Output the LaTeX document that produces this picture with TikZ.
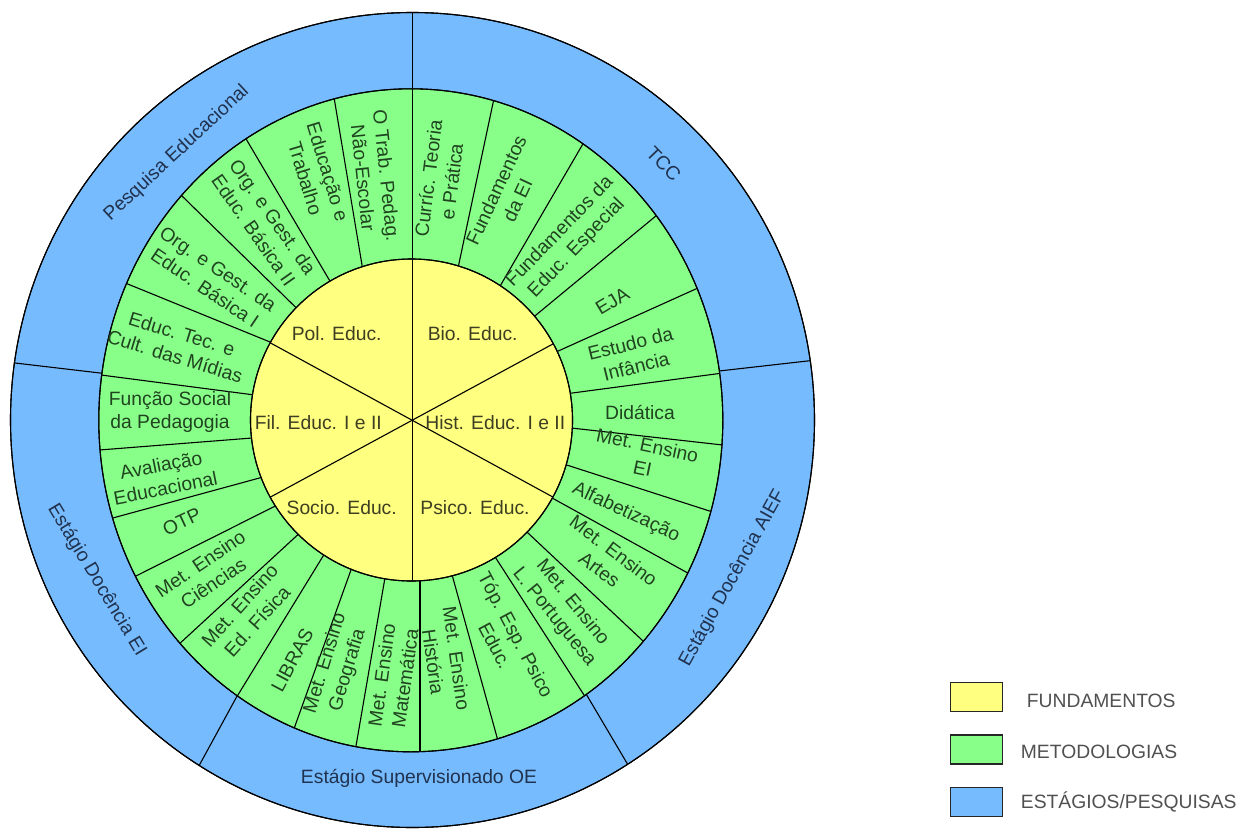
\documentclass[tikz,border=0pt]{standalone}
\usepackage{fontspec}
\setmainfont{Liberation Sans}
\definecolor{yel}{RGB}{255,255,128}
\definecolor{grn}{RGB}{136,255,136}
\definecolor{blu}{RGB}{119,187,255}
\definecolor{ytext}{RGB}{62,62,34}
\definecolor{gtext}{RGB}{32,68,32}
\definecolor{btext}{RGB}{32,50,78}
\definecolor{legtext}{RGB}{80,80,80}
\tikzset{
  ring/.style={draw=black, line width=1.1pt},
  divline/.style={draw=black, line width=1.1pt, shorten <=-5pt, shorten >=-5pt},
  lbl/.style={font=\fontsize{19.3}{23.5}\selectfont, align=center, inner sep=0pt},
  ylbl/.style={lbl, text=ytext},
  glbl/.style={lbl, text=gtext},
  blbl/.style={lbl, text=btext},
  legbox/.style={draw=black!85, line width=1.3pt, minimum width=52pt, minimum height=29pt, inner sep=0pt},
  legtxt/.style={font=\fontsize{19.3}{22}\selectfont, text=legtext, anchor=base west, inner sep=0pt}
}
\begin{document}
\begin{tikzpicture}[x=1pt,y=-1pt]
\useasboundingbox (0,0) rectangle (1248,830);
\coordinate (CO) at (412.5,420);
\coordinate (CG) at (410.8,420.3);
\coordinate (CY) at (411.5,420);
% rings
\path[ring, fill=blu] (CO) ellipse [x radius=402, y radius=407.5];
\path[ring, fill=grn] (CG) ellipse [x radius=312, y radius=331.5];
\path[ring, fill=yel] (CY) ellipse [x radius=161, y radius=161];
% outer ring dividers
\begin{scope}[even odd rule]
  \clip (CO) ellipse [x radius=402, y radius=407.5] (CG) ellipse [x radius=312, y radius=331.5];
  \coordinate (b1i) at (100,373);   \coordinate (b1o) at (15,363);
  \coordinate (b2i) at (721.7,370.7); \coordinate (b2o) at (810,360.7);
  \coordinate (b3i) at (236.7,696.7); \coordinate (b3o) at (196.7,770);
  \coordinate (b4i) at (586.7,695); \coordinate (b4o) at (630,768.3);
  \coordinate (b5i) at (412.7,89);  \coordinate (b5o) at (412.7,12.7);
  \foreach \n in {1,...,5} { \draw[divline] (b\n i) -- (b\n o); }
\end{scope}
% green ring dividers
\begin{scope}[even odd rule]
  \clip (CG) ellipse [x radius=312, y radius=331.5] (CY) ellipse [x radius=161, y radius=161];
  \coordinate (g1i) at (361.7,263.3); \coordinate (g1o) at (334.3,99);
  \coordinate (g2i) at (328.3,278.3); \coordinate (g2o) at (246.7,140);
  \coordinate (g3i) at (293.3,305);   \coordinate (g3o) at (182.7,196.7);
  \coordinate (g4i) at (269.3,341.7); \coordinate (g4o) at (126,283.3);
  \coordinate (g5i) at (249.3,394.3); \coordinate (g5o) at (101,375);
  \coordinate (g6i) at (248.3,438.3); \coordinate (g6o) at (99.3,450);
  \coordinate (g7i) at (258.3,478.3); \coordinate (g7o) at (111.7,518.3);
  \coordinate (g8i) at (270.7,508.3); \coordinate (g8o) at (136,576);
  \coordinate (g9i) at (295,537.3);   \coordinate (g9o) at (181.7,641.7);
  \coordinate (g10i) at (322.7,556.7); \coordinate (g10o) at (237.3,696);
  \coordinate (g11i) at (350,572.7);   \coordinate (g11o) at (295,726);
  \coordinate (g12i) at (384.3,581.7); \coordinate (g12o) at (356,746);
  \coordinate (g13i) at (420,580);     \coordinate (g13o) at (420,751.7);
  \coordinate (g14i) at (453.3,579.3); \coordinate (g14o) at (497.3,738.3);
  \coordinate (g15i) at (496,558.3);   \coordinate (g15o) at (584,695);
  \coordinate (g16i) at (528.3,533.3); \coordinate (g16o) at (642.7,640.7);
  \coordinate (g17i) at (552.7,498.3); \coordinate (g17o) at (688.3,573.3);
  \coordinate (g18i) at (566.7,465);   \coordinate (g18o) at (711.7,511.7);
  \coordinate (g19i) at (574,428.3);   \coordinate (g19o) at (722.7,445);
  \coordinate (g20i) at (570,393.3);   \coordinate (g20o) at (720.7,373.3);
  \coordinate (g21i) at (556.7,351.7); \coordinate (g21o) at (697.3,288.3);
  \coordinate (g22i) at (536,315);     \coordinate (g22o) at (655,216.7);
  \coordinate (g23i) at (500.7,285);   \coordinate (g23o) at (583.3,143.3);
  \coordinate (g24i) at (458.3,266.7); \coordinate (g24o) at (493.3,101.7);
  \coordinate (g25i) at (412.7,259);   \coordinate (g25o) at (412.7,89);
  \foreach \n in {1,...,25} { \draw[divline] (g\n i) -- (g\n o); }
\end{scope}
% inner dividers
\begin{scope}
  \clip (CY) ellipse [x radius=161, y radius=161];
  \coordinate (y1a) at (412.7,259);   \coordinate (y1b) at (412.7,580);
  \coordinate (y2a) at (269.3,342.3); \coordinate (y2b) at (552.3,496.7);
  \coordinate (y3a) at (552.3,344.3); \coordinate (y3b) at (270,497.3);
  \foreach \n in {1,2,3} { \draw[divline] (y\n a) -- (y\n b); }
\end{scope}
% ring outlines on top
\path[ring] (CO) ellipse [x radius=402, y radius=407.5];
\path[ring] (CG) ellipse [x radius=312, y radius=331.5];
\path[ring] (CY) ellipse [x radius=161, y radius=161];
% inner labels
\node[ylbl] (pol)  at (336.7,333.3) {Pol. Educ.};
\node[ylbl] (bio)  at (472.7,333.3) {Bio. Educ.};
\node[ylbl] (fil)  at (318.3,422.3) {Fil. Educ. I e II};
\node[ylbl] (hist) at (495.3,422.3) {Hist. Educ. I e II};
\node[ylbl] (soc)  at (341.7,507.3) {Socio. Educ.};
\node[ylbl] (psi)  at (475,507.3) {Psico. Educ.};
% green labels
\node[glbl, rotate=-84] (m1)  at (375,176.7) {O Trab. Pedag.\\Não-Escolar};
\node[glbl, rotate=-73] (m2)  at (316.7,175) {Educação e\\Trabalho};
\node[glbl, rotate=-55] (m3)  at (263.3,223.3) {Org. e Gest. da\\Educ. Básica II};
\node[glbl, rotate=-34] (m4)  at (211.7,278.3) {Org. e Gest. da\\Educ. Básica I};
\node[glbl, rotate=-17] (m5)  at (178.5,345) {Educ. Tec. e\\Cult. das Mídias};
\node[glbl]             (m6)  at (170,412) {Função Social\\da Pedagogia};
\node[glbl, rotate=11]  (m7)  at (163.3,476.7) {Avaliação\\Educacional};
\node[glbl, rotate=25]  (m8)  at (181.7,521.7) {OTP};
\node[glbl, rotate=34]  (m9)  at (206.7,573.3) {Met. Ensino\\Ciências};
\node[glbl, rotate=48]  (m10) at (248.3,613.3) {Met. Ensino\\Ed. Física};
\node[glbl, rotate=62]  (m11) at (292.3,660) {LIBRAS};
\node[glbl, rotate=73]  (m12) at (336.7,666.7) {Met. Ensino\\Geografia};
\node[glbl, rotate=82]  (m13) at (393.3,676.7) {Met. Ensino\\Matemática};
\node[glbl, rotate=-82] (m14) at (445,660) {Met. Ensino\\História};
\node[glbl, rotate=-62] (m15) at (505.7,640) {Tóp. Esp. Psico\\Educ.};
\node[glbl, rotate=-51] (m16) at (563.3,610) {Met. Ensino\\L. Portuguesa};
\node[glbl, rotate=-37] (m17) at (606.7,560) {Met. Ensino\\Artes};
\node[glbl, rotate=-25] (m18) at (626,512.7) {Alfabetização};
\node[glbl, rotate=-12] (m19) at (645,456.7) {Met. Ensino\\EI};
\node[glbl]             (m20) at (640,412) {Didática};
\node[glbl, rotate=14]  (m21) at (633.3,355) {Estudo da\\Infância};
\node[glbl, rotate=31]  (m22) at (612.3,301) {EJA};
\node[glbl, rotate=46]  (m23) at (568.3,240) {Fundamentos da\\Educ. Especial};
\node[glbl, rotate=65]  (m24) at (506.7,195) {Fundamentos\\da EI};
\node[glbl, rotate=83]  (m25) at (440,180) {Curríc. Teoria\\e Prática};
% blue labels
\node[blbl, rotate=43]  (o1) at (176.7,153.3) {Pesquisa Educacional};
\node[blbl, rotate=-46] (o2) at (663.7,164) {TCC};
\node[blbl, rotate=-59] (o3) at (96.7,580) {Estágio Docência EI};
\node[blbl]             (o4) at (419,778) {Estágio Supervisionado OE};
\node[blbl, rotate=61]  (o5) at (732.5,578.3) {Estágio Docência AIEF};
% legend
\node[legbox, fill=yel] (k1) at (976.7,697.2) {};
\node[legbox, fill=grn] (k2) at (976.7,749.5) {};
\node[legbox, fill=blu] (k3) at (976.7,802.2) {};
\node[legtxt] (t1) at (1026.7,707.5) {FUNDAMENTOS};
\node[legtxt] (t2) at (1020.7,758.5) {METODOLOGIAS};
\node[legtxt] (t3) at (1020.7,808.5) {ESTÁGIOS/PESQUISAS};
\end{tikzpicture}
\end{document}
